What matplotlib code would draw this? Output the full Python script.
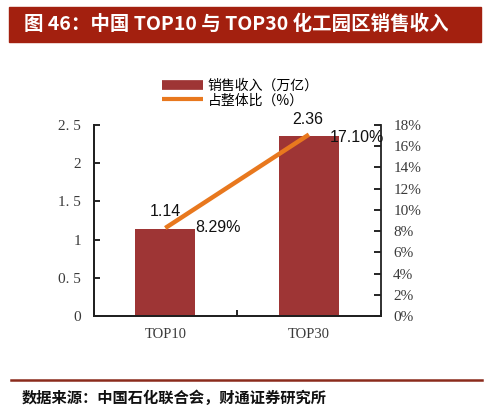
import matplotlib
matplotlib.use("Agg")
import matplotlib.pyplot as plt
from matplotlib.patches import Rectangle
from matplotlib.lines import Line2D

plt.rcParams['font.family'] = ['Noto Sans CJK SC', 'DejaVu Sans']

categories = ["TOP10", "TOP30"]
sales = [1.14, 2.36]            # 万亿
share = [0.0829, 0.1710]        # 占整体比
sales_labels = ["1.14", "2.36"]
share_labels = ["8.29%", "17.10%"]
left_ticks = [0, 0.5, 1, 1.5, 2, 2.5]
left_tick_labels = ["0", "0. 5", "1", "1. 5", "2", "2. 5"]
right_ticks = [0, 0.02, 0.04, 0.06, 0.08, 0.10, 0.12, 0.14, 0.16, 0.18]
right_tick_labels = ["0%", "2%", "4%", "6%", "8%", "10%", "12%", "14%", "16%", "18%"]
legend_labels = ["销售收入（万亿）", "占整体比（%）"]
title = "图 46：中国 TOP10 与 TOP30 化工园区销售收入"
source = "数据来源：中国石化联合会，财通证券研究所"

BAR = "#9E3535"
ORANGE = "#E8781E"
BANNER = "#A3200F"
TICKC = "#3a3a3a"
serif = ["Liberation Serif", "DejaVu Serif"]
sans = ["Liberation Sans", "DejaVu Sans"]

W, H = 490, 413
fig = plt.figure(figsize=(W / 100, H / 100), dpi=100)

# Title banner
fig.patches.append(Rectangle((9 / W, 1 - 42 / H), 472 / W, 35 / H,
                             transform=fig.transFigure, color=BANNER, zorder=0))
fig.text(24 / W, 1 - 24.5 / H, title, color="white", fontsize=14,
         fontweight="bold", va="center", ha="left")

ax = fig.add_axes([93.5 / W, 1 - 316 / H, 287.2 / W, 191 / H])
ax2 = ax.twinx()

x = list(range(len(categories)))
ax.bar(x, sales, width=0.42, color=BAR, zorder=2)
ax.set_xlim(-0.5, 1.5)
ax.set_ylim(0, 2.5)
ax2.set_ylim(0, 0.18)
ax2.plot(x, share, color=ORANGE, lw=3.2, solid_capstyle="butt", zorder=3)

for a in (ax, ax2):
    a.spines["top"].set_visible(False)
    a.patch.set_visible(False)
ax.set_zorder(1)
ax2.set_zorder(2)
for s in ("left", "bottom", "right"):
    ax2.spines[s].set_linewidth(1.3)
    ax2.spines[s].set_color("#222222")
ax.spines["left"].set_linewidth(1.3)
ax.spines["bottom"].set_linewidth(1.3)
ax.spines["right"].set_visible(False)

ax.set_yticks(left_ticks)
ax.set_yticklabels(left_tick_labels, fontfamily=serif, fontsize=11, color=TICKC)
ax.tick_params(axis="y", direction="in", length=4, width=1.2, pad=9)
ax2.set_yticks(right_ticks)
ax2.set_yticklabels(right_tick_labels, fontfamily=serif, fontsize=11, color=TICKC)
ax2.tick_params(axis="y", direction="in", length=5, width=1.2, pad=9)

ax.set_xticks(x)
ax.set_xticklabels(categories, fontfamily=serif, fontsize=10.5, color=TICKC)
ax.tick_params(axis="x", which="major", length=0, pad=9)
ax.set_xticks([-0.5, 0.5, 1.5], minor=True)
ax.tick_params(axis="x", which="minor", direction="in", length=4, width=1.2)

# Data labels
ax.annotate(sales_labels[0], xy=(0, sales[0]), xytext=(0, 17), textcoords="offset pixels",
            ha="center", va="center", fontsize=11.5, fontfamily=sans, color="#111111")
ax.annotate(sales_labels[1], xy=(1, sales[1]), xytext=(-1, 16), textcoords="offset pixels",
            ha="center", va="center", fontsize=11.5, fontfamily=sans, color="#111111")
ax2.annotate(share_labels[0], xy=(0, share[0]), xytext=(30, 1), textcoords="offset pixels",
             ha="left", va="center", fontsize=11.5, fontfamily=sans, color="#111111")
ax2.annotate(share_labels[1], xy=(1, share[1]), xytext=(21, -3), textcoords="offset pixels",
             ha="left", va="center", fontsize=11.5, fontfamily=sans, color="#111111")

# Legend
handles = [Line2D([0], [0], color=BAR, lw=7, solid_capstyle="butt"),
           Line2D([0], [0], color=ORANGE, lw=3, solid_capstyle="butt")]
fig.legend(handles, legend_labels, loc="center", bbox_to_anchor=(240 / W, 1 - 93 / H),
           frameon=False, fontsize=10, handlelength=3.0, handletextpad=0.3,
           labelspacing=0.05, borderpad=0)

# Footer
fig.add_artist(Line2D([11 / W, 482 / W], [1 - 380 / H, 1 - 380 / H],
                      transform=fig.transFigure, color="#8B2B1C", lw=1.8))
fig.text(22 / W, 1 - 398 / H, source, fontsize=11, fontweight="bold",
         va="center", ha="left", color="#111111")

fig.savefig("out.png", dpi=100)
